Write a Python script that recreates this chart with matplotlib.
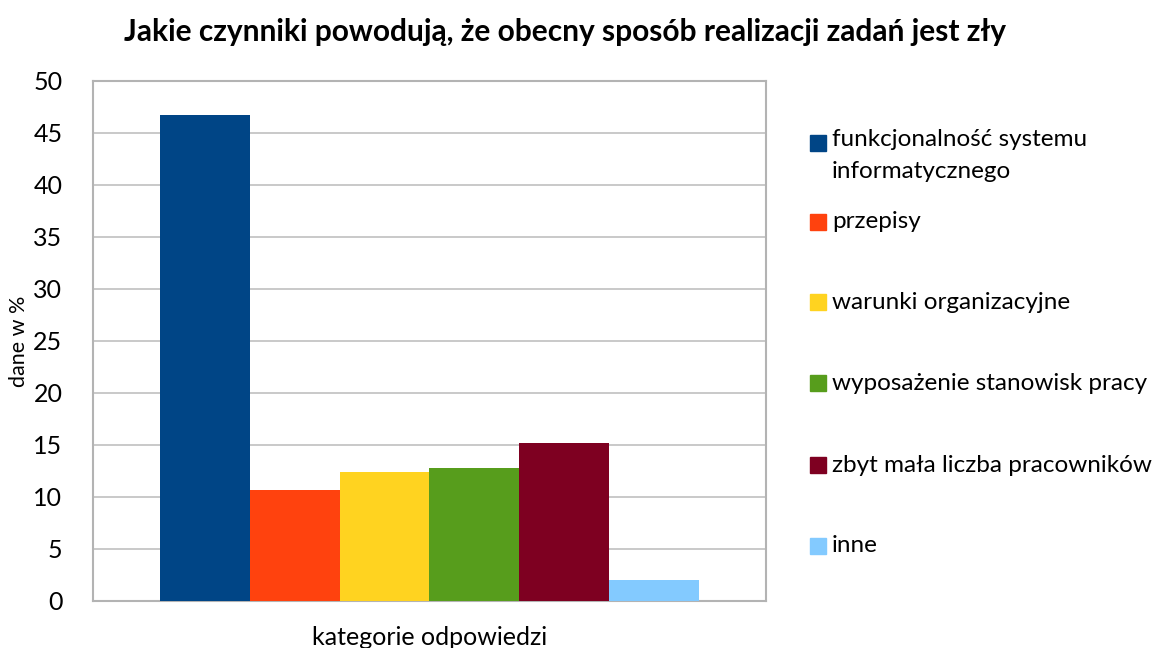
import matplotlib
matplotlib.use("Agg")
import matplotlib.pyplot as plt
from matplotlib.patches import Rectangle

plt.rcParams['font.family'] = ['Lato', 'DejaVu Sans']

title = "Jakie czynniki powodują, że obecny sposób realizacji zadań jest zły"
categories = ["funkcjonalność systemu\ninformatycznego", "przepisy", "warunki organizacyjne",
              "wyposażenie stanowisk pracy", "zbyt mała liczba pracowników", "inne"]
values = [46.7, 10.7, 12.4, 12.8, 15.2, 2.0]
colors = ["#004586", "#ff420e", "#ffd320", "#579d1c", "#7e0021", "#83caff"]
yticks = [0, 5, 10, 15, 20, 25, 30, 35, 40, 45, 50]
xlabel = "kategorie odpowiedzi"
ylabel = "dane w %"

W, H = 1154, 648
fig = plt.figure(figsize=(W / 100, H / 100), dpi=100)
ax = fig.add_axes([93 / W, 1 - 601 / H, (766 - 93) / W, (601 - 81) / H])

n = len(values)
xs = [i - (n - 1) / 2 for i in range(n)]
ax.bar(xs, values, width=1.0, color=colors, zorder=3)
ax.set_xlim(-3.75, 3.75)
ax.set_ylim(0, 50)
ax.set_yticks(yticks)
ax.set_yticklabels([str(t) for t in yticks], fontsize=18)
ax.set_xticks([])
ax.tick_params(axis='y', length=0, pad=22)
ax.grid(axis='y', color='#c0c0c0', linewidth=1.2, zorder=0)
for s in ax.spines.values():
    s.set_color('#b3b3b3')
    s.set_linewidth(1.5)
ax.set_xlabel(xlabel, fontsize=18, labelpad=18)
fig.text(19 / W, 1 - 341 / H, ylabel, fontsize=15.5, rotation=90, ha='center', va='center')

fig.text(565 / W, 1 - 32 / H, title, fontsize=21.5, fontweight='bold', ha='center', va='center')

# legend
ys = [143, 222, 302, 383, 465, 546]
for lbl, col, y in zip(categories, colors, ys):
    fig.patches.append(Rectangle((810 / W, 1 - (y + 8) / H), 16 / W, 16 / H,
                                 transform=fig.transFigure, color=col))
    if '\n' in lbl:
        fig.text(832 / W, 1 - (y - 14) / H, lbl, fontsize=17.5, ha='left', va='top',
                 linespacing=1.65)
    else:
        fig.text(832 / W, 1 - y / H, lbl, fontsize=17.5, ha='left', va='center')

fig.savefig("out.png", dpi=100)
